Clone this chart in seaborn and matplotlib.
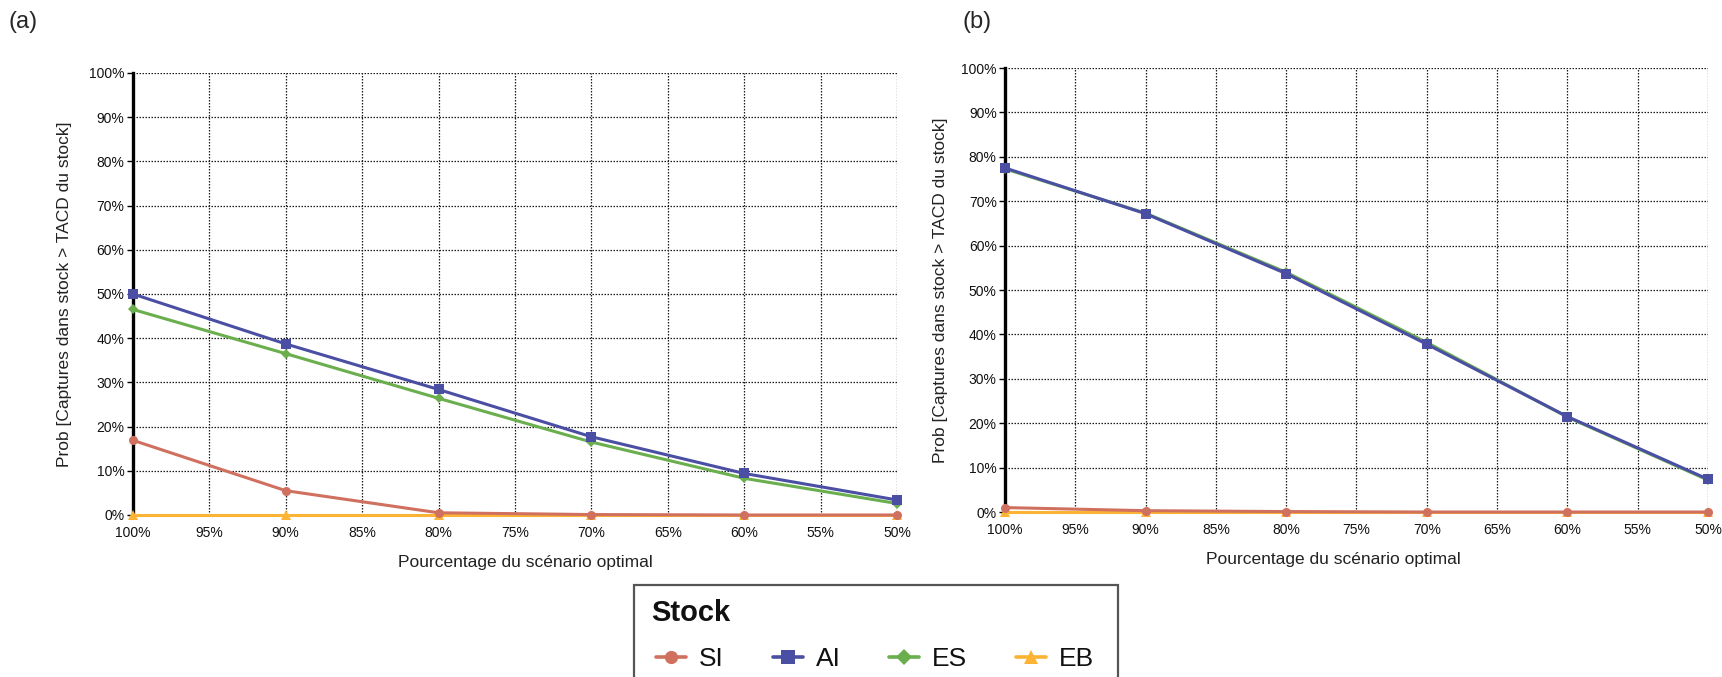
import numpy as np
import pandas as pd
import seaborn as sns
import matplotlib
matplotlib.use("Agg")
import matplotlib.pyplot as plt
from matplotlib.ticker import PercentFormatter, MultipleLocator
from matplotlib.lines import Line2D
from matplotlib.patches import Rectangle

# Share of the optimal harvest scenario (x axis)
scenario = [100, 90, 80, 70, 60, 50]
x_ticks = [100, 95, 90, 85, 80, 75, 70, 65, 60, 55, 50]
stocks = ["SI", "AI", "ES", "EB"]

# Panel (a): probability (%) that catches exceed the stock TAC
a_SI = [16.9, 5.5, 0.5, 0.1, 0.0, 0.0]
a_AI = [50.0, 38.7, 28.4, 17.7, 9.4, 3.4]
a_ES = [46.5, 36.5, 26.4, 16.5, 8.3, 2.6]
a_EB = [0.0, 0.0, 0.0, 0.0, 0.0, 0.0]

# Panel (b)
b_SI = [1.0, 0.3, 0.1, 0.0, 0.0, 0.0]
b_AI = [77.5, 67.2, 53.7, 37.8, 21.5, 7.4]
b_ES = [77.3, 67.3, 54.0, 38.2, 21.4, 7.2]
b_EB = [0.0, 0.0, 0.0, 0.0, 0.0, 0.0]

colors = {"SI": "#D0705F", "AI": "#4B4FA3", "ES": "#6AAE4E", "EB": "#FDB334"}
markers = {"SI": "o", "AI": "s", "ES": "D", "EB": "^"}
msizes = {"SI": 6.5, "AI": 7, "ES": 5.5, "EB": 7}
draw_order = ["EB", "ES", "AI", "SI"]

ylabel = "Prob [Captures dans stock > TACD du stock]"
xlabel = "Pourcentage du scénario optimal"


def long_table(si, ai, es, eb):
    rows = []
    for name, vals in zip(stocks, [si, ai, es, eb]):
        for x, v in zip(scenario, vals):
            rows.append({"Pourcentage": x, "Prob": v, "Stock": name})
    return pd.DataFrame(rows)


sns.set_theme(style="white")
plt.rcParams["font.family"] = ["Liberation Sans", "DejaVu Sans"]

W, H = 1722, 677
fig = plt.figure(figsize=(W / 100, H / 100), dpi=100)
ax_a = fig.add_axes([0.0772, 0.2393, 0.4437, 0.6529])
ax_b = fig.add_axes([0.5836, 0.2437, 0.4082, 0.6558])

panels = [
    (ax_a, long_table(a_SI, a_AI, a_ES, a_EB), 0.513, -0.080),
    (ax_b, long_table(b_SI, b_AI, b_ES, b_EB), 0.467, -0.081),
]

for ax, df, xlab_x, ylab_x in panels:
    for z, name in enumerate(draw_order):
        sub = df[df["Stock"] == name]
        sns.lineplot(data=sub, x="Pourcentage", y="Prob", ax=ax,
                     color=colors[name], marker=markers[name],
                     markersize=msizes[name], markeredgewidth=0,
                     linewidth=2.2, clip_on=False, zorder=5 + z,
                     legend=False)
    ax.set_xlim(100, 50)
    ax.set_ylim(0, 100)
    ax.set_xticks(x_ticks)
    ax.xaxis.set_major_formatter(PercentFormatter(decimals=0))
    ax.yaxis.set_major_locator(MultipleLocator(10))
    ax.yaxis.set_major_formatter(PercentFormatter(decimals=0))
    ax.grid(True, color="#1a1a1a", linestyle=(0, (1.2, 1.2)), linewidth=0.9)
    ax.set_axisbelow(True)
    for side in ["top", "right", "bottom"]:
        ax.spines[side].set_visible(False)
    ax.spines["left"].set_linewidth(2.4)
    ax.spines["left"].set_color("black")
    ax.spines["left"].set_zorder(4)
    ax.tick_params(axis="y", which="major", left=True, length=4, width=1,
                   color="black", pad=2, labelsize=10, labelcolor="#111111")
    ax.tick_params(axis="x", which="major", bottom=False, length=0,
                   pad=8, labelsize=10, labelcolor="#111111")
    ax.set_ylabel(ylabel, fontsize=12.5, color="#222222")
    ax.set_xlabel(xlabel, fontsize=12.5, color="#222222")
    ax.yaxis.set_label_coords(ylab_x, 0.5)
    ax.xaxis.set_label_coords(xlab_x, -0.091)

fig.text(0.005, 0.967, "(a)", fontsize=17, va="center", ha="left")
fig.text(0.559, 0.967, "(b)", fontsize=17, va="center", ha="left")

# Legend: framed box with a bold title and one row of entries
frame = Rectangle((634 / W, -0.05), (1118 - 634) / W, 0.05 + (H - 585) / H,
                  transform=fig.transFigure, facecolor="white",
                  edgecolor="#555555", linewidth=1.6, zorder=1)
fig.patches.append(frame)
fig.text(651 / W, (H - 613) / H, "Stock", fontsize=21, fontweight="bold",
         ha="left", va="center", color="#111111")

handles = [Line2D([0], [0], color=colors[s], marker=markers[s],
                  markersize=msizes[s] + 3, markeredgewidth=0, linewidth=2.6)
           for s in stocks]
leg = fig.legend(handles, stocks, loc="center left",
                 bbox_to_anchor=(656 / W, (H - 659) / H),
                 ncol=4, fontsize=19, frameon=False,
                 handlelength=1.14, handletextpad=0.49, columnspacing=1.85,
                 borderpad=0, borderaxespad=0)
for t in leg.get_texts():
    t.set_color("#111111")

fig.savefig("out.png", dpi=100)
